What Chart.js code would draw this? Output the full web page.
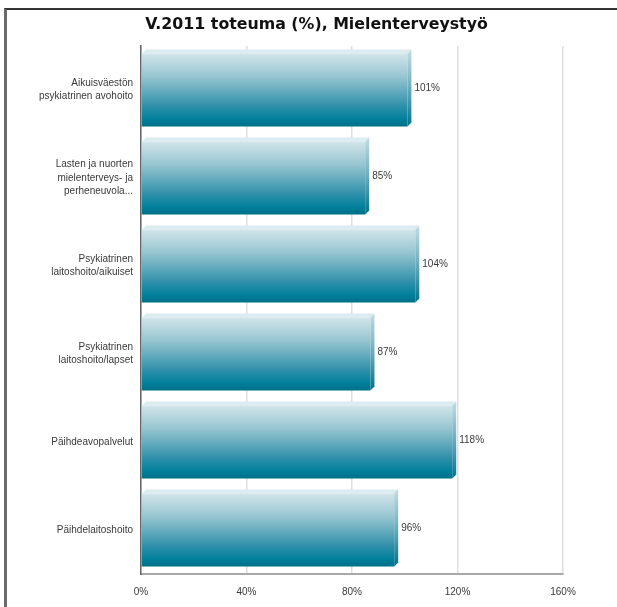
<!DOCTYPE html>
<html>
<head>
<meta charset="utf-8">
<script src="https://cdn.jsdelivr.net/npm/chart.js@4"></script>
<style>
  html, body { margin: 0; padding: 0; background: #fff; }
  #kehys { position: absolute; left: 4px; top: 8px; width: 613px; height: 599px;
           border-top: 2px solid #333; border-left: 3px solid #6b6b6b; box-sizing: border-box; }
  #wrap { position: absolute; left: 0; top: 0; width: 617px; height: 607px; }
</style>
</head>
<body>
<div id="kehys"></div>
<div id="wrap"><canvas id="kaavio"></canvas></div>
<script>
// otsikko ja tiedot
const otsikko = 'V.2011 toteuma (%), Mielenterveystyö';
const kategoriat = [
    ['Aikuisväestön', 'psykiatrinen avohoito'],
    ['Lasten ja nuorten', 'mielenterveys- ja', 'perheneuvola...'],
    ['Psykiatrinen', 'laitoshoito/aikuiset'],
    ['Psykiatrinen', 'laitoshoito/lapset'],
    'Päihdeavopalvelut',
    'Päihdelaitoshoito'
];
const toteuma = [101, 85, 104, 87, 118, 96];
const akseliMax = 160;
const akseliVali = 40;

const syvyys = 4;       // 3d-reunan paksuus
const palkkiOsuus = 0.83;

function palkinVari(context) {
    const chart = context.chart;
    if (!chart.chartArea) return '#3d97ad';
    const y = chart.scales.y;
    const keski = y.getPixelForValue(context.dataIndex);
    const puoli = (y.height / kategoriat.length) * palkkiOsuus / 2;
    const g = chart.ctx.createLinearGradient(0, keski - puoli, 0, keski + puoli);
    g.addColorStop(0, '#d2e5ea');
    g.addColorStop(0.3, '#9ac7d2');
    g.addColorStop(0.72, '#2f90aa');
    g.addColorStop(0.9, '#00809b');
    g.addColorStop(1, '#006f88');
    return g;
}

// 3d-pinnat ja arvotekstit
const kolmiulotteinen = {
    id: 'kolmiulotteinen',
    afterDatasetsDraw(chart) {
        const ctx = chart.ctx;
        const meta = chart.getDatasetMeta(0);
        ctx.save();
        meta.data.forEach((el, i) => {
            const yla = el.y - el.height / 2;
            const ala = el.y + el.height / 2;
            const vasen = el.base;
            const oikea = el.x;
            // yläpinta
            ctx.fillStyle = '#dcebef';
            ctx.beginPath();
            ctx.moveTo(vasen, yla);
            ctx.lineTo(vasen + syvyys, yla - syvyys);
            ctx.lineTo(oikea + syvyys, yla - syvyys);
            ctx.lineTo(oikea, yla);
            ctx.closePath();
            ctx.fill();
            // oikea pinta
            const g = ctx.createLinearGradient(0, yla - syvyys, 0, ala);
            g.addColorStop(0, '#c2dce3');
            g.addColorStop(0.4, '#7fb7c6');
            g.addColorStop(1, '#00728c');
            ctx.fillStyle = g;
            ctx.beginPath();
            ctx.moveTo(oikea, yla);
            ctx.lineTo(oikea + syvyys, yla - syvyys);
            ctx.lineTo(oikea + syvyys, ala - syvyys);
            ctx.lineTo(oikea, ala);
            ctx.closePath();
            ctx.fill();
            // arvo
            ctx.fillStyle = '#3a3a3a';
            ctx.font = '10px "Liberation Sans", sans-serif';
            ctx.textAlign = 'left';
            ctx.textBaseline = 'middle';
            ctx.fillText(toteuma[i] + '%', oikea + syvyys + 3, el.y - 2);
        });
        ctx.restore();
    }
};

const ctx = document.getElementById('kaavio');
new Chart(ctx.getContext('2d'), {
    type: 'bar',
    data: {
        labels: kategoriat,
        datasets: [{
            data: toteuma,
            backgroundColor: palkinVari,
            borderWidth: 0,
            barPercentage: 1,
            categoryPercentage: palkkiOsuus
        }]
    },
    options: {
        indexAxis: 'y',
        responsive: true,
        maintainAspectRatio: false,
        animation: false,
        layout: { padding: { left: 16, right: 0, top: 0, bottom: 0 } },
        plugins: {
            legend: { display: false },
            tooltip: { enabled: false },
            title: {
                display: true,
                text: otsikko,
                color: '#111',
                font: { family: '"DejaVu Sans", sans-serif', size: 15.8, weight: 'bold' },
                padding: { top: 15, bottom: 12 }
            }
        },
        scales: {
            x: {
                min: 0,
                max: akseliMax,
                ticks: {
                    stepSize: akseliVali,
                    callback: v => v + '%',
                    color: '#3a3a3a',
                    font: { family: '"Liberation Sans", sans-serif', size: 10 },
                    padding: 12
                },
                grid: { color: '#dedede', drawTicks: false, lineWidth: 1.5 },
                border: { color: '#a8a8a8', width: 2 },
                afterFit: s => { s.width = s.width; s.height = 33; }
            },
            y: {
                ticks: {
                    color: '#3a3a3a',
                    font: { family: '"Liberation Sans", sans-serif', size: 10, lineHeight: 1.35 },
                    padding: 8
                },
                grid: { display: false, drawTicks: false },
                border: { color: '#666', width: 1.5 },
                afterFit: s => { s.width = 125; }
            },
            // tyhjä tila oikealla
            oikea: {
                axis: 'y',
                type: 'linear',
                position: 'right',
                display: true,
                ticks: { display: false },
                grid: { display: false, drawTicks: false },
                border: { display: false },
                afterFit: s => { s.width = 54; }
            }
        }
    },
    plugins: [kolmiulotteinen]
});
</script>
</body>
</html>
